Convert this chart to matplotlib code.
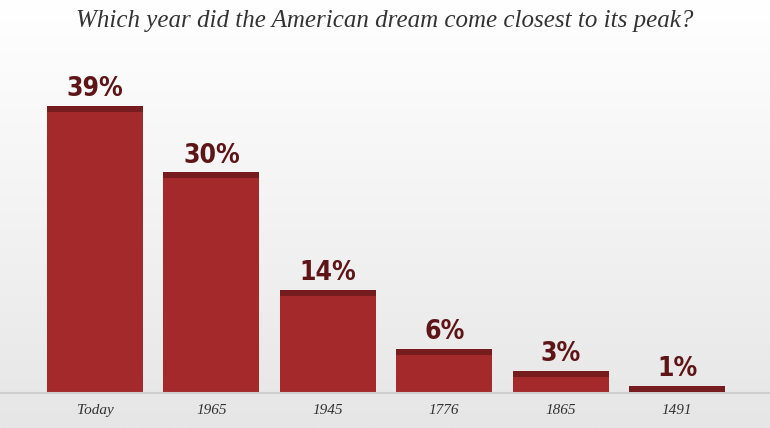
import matplotlib.pyplot as plt
import numpy as np

categories = ["Today", "1965", "1945", "1776", "1865", "1491"]
values = [39, 30, 14, 6, 3, 1]
labels = ["39%", "30%", "14%", "6%", "3%", "1%"]

bar_color = "#a3292b"
stripe_color = "#761c1f"
text_color = "#5e1517"

fig = plt.figure(figsize=(7.7, 4.28), dpi=100)

# soft grey background gradient
bg = fig.add_axes([0, 0, 1, 1], zorder=-1)
grad = np.linspace(0, 1, 256).reshape(-1, 1)
bg.imshow(grad, aspect="auto", cmap=plt.matplotlib.colors.LinearSegmentedColormap.from_list(
    "bg", ["#ffffff", "#f3f3f3", "#e6e6e6"]), extent=[0, 1, 0, 1], origin="upper")
bg.axis("off")

ax = fig.add_axes([0, 1 - 393 / 428, 1, 333 / 428])
ax.patch.set_alpha(0)
x = np.arange(len(categories))
width = 96 / 116.4
ax.bar(x, values, width=width, color=bar_color, zorder=2)
# dark stripe along each bar top
stripe = 0.85
ax.bar(x, [min(stripe, v) for v in values], width=width,
       bottom=[v - min(stripe, v) for v in values], color=stripe_color, zorder=3)

for xi, v, lab in zip(x, values, labels):
    ax.text(xi, v + 0.5, lab, ha="center", va="bottom", fontsize=19,
            fontweight="bold", color=text_color, family="DejaVu Sans",
            fontstretch="condensed")

ax.set_xlim(-95 / 116.4, 5 + 93 / 116.4)
ax.set_ylim(0, 333 / 7.36)
ax.set_xticks(x)
ax.set_xticklabels(categories, fontstyle="italic", family="Liberation Serif",
                   fontsize=11, color="#333333")
ax.tick_params(axis="x", length=0, pad=8)
ax.set_yticks([])
for s in ["top", "right", "left"]:
    ax.spines[s].set_visible(False)
ax.spines["bottom"].set_color("#cfcfcf")
ax.spines["bottom"].set_linewidth(1.5)

fig.text(0.5, 0.952, "Which year did the American dream come closest to its peak?",
         ha="center", va="center", fontsize=18, fontstyle="italic",
         family="Liberation Serif", color="#333333")

fig.savefig("out.png", dpi=100)
